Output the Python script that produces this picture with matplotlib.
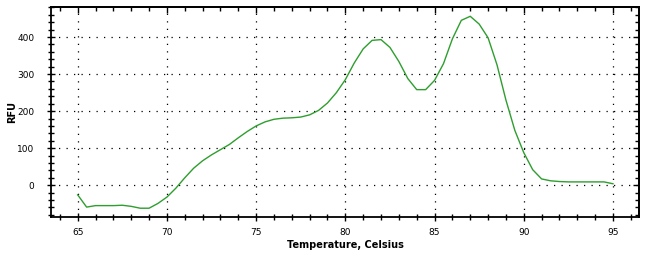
import numpy as np
import matplotlib
matplotlib.use("Agg")
import matplotlib.pyplot as plt
from matplotlib.ticker import MultipleLocator

# melt curve, sampled every 0.5 C
temps = [65, 65.5, 66, 66.5, 67, 67.5, 68, 68.5, 69, 69.5,
         70, 70.5, 71, 71.5, 72, 72.5, 73, 73.5, 74, 74.5,
         75, 75.5, 76, 76.5, 77, 77.5, 78, 78.5, 79, 79.5,
         80, 80.5, 81, 81.5, 82, 82.5, 83, 83.5, 84, 84.5,
         85, 85.5, 86, 86.5, 87, 87.5, 88, 88.5, 89, 89.5,
         90, 90.5, 91, 91.5, 92, 92.5, 93, 93.5, 94, 94.5, 95]
rfu = [-26, -59, -55, -55, -55, -54, -57, -62, -62, -49,
       -32, -8, 20, 46, 66, 82, 96, 110, 128, 145,
       160, 171, 178, 181, 182, 184, 190, 202, 222, 250,
       285, 330, 368, 391, 393, 372, 334, 288, 258, 258,
       283, 328, 395, 445, 456, 435, 398, 325, 230, 148,
       88, 42, 17, 12, 10, 9, 9, 9, 9, 9, 4]

fig = plt.figure(figsize=(6.53, 2.60), dpi=100)
ax = fig.add_axes([0.078, 0.165, 0.9006, 0.808])

ax.plot(temps, rfu, color="#2e9e2e", lw=1.0)

ax.set_xlim(63.5, 96.46)
ax.set_ylim(-86, 481)

ax.xaxis.set_major_locator(MultipleLocator(5))
ax.xaxis.set_minor_locator(MultipleLocator(1))
ax.yaxis.set_major_locator(MultipleLocator(100))
ax.yaxis.set_minor_locator(MultipleLocator(20))

ax.grid(True, which="major", color="black", linestyle=(0, (1, 5)), linewidth=0.9)

ax.tick_params(which="both", direction="inout", labelsize=6.5, width=1)
ax.tick_params(axis="x", pad=5)
ax.tick_params(axis="y", pad=9)
ax.tick_params(which="major", length=6)
ax.tick_params(which="minor", length=4)

# top / right ticks point inward only
top = ax.secondary_xaxis("top")
right = ax.secondary_yaxis("right")
top.xaxis.set_major_locator(MultipleLocator(5))
top.xaxis.set_minor_locator(MultipleLocator(1))
right.yaxis.set_major_locator(MultipleLocator(100))
right.yaxis.set_minor_locator(MultipleLocator(20))
for sec in (top, right):
    sec.tick_params(which="both", direction="in", labelsize=0, width=1,
                    labeltop=False, labelright=False)
    sec.tick_params(which="major", length=4)
    sec.tick_params(which="minor", length=3)
    for s in sec.spines.values():
        s.set_linewidth(1.3)

for s in ax.spines.values():
    s.set_linewidth(1.3)

ax.set_xlabel("Temperature, Celsius", fontsize=7, fontweight="bold")
ax.xaxis.set_label_coords(0.5, -0.11)
ax.set_ylabel("RFU", fontsize=7, fontweight="bold")
ax.yaxis.set_label_coords(-0.058, 0.5)

fig.savefig("out.png", dpi=100)
